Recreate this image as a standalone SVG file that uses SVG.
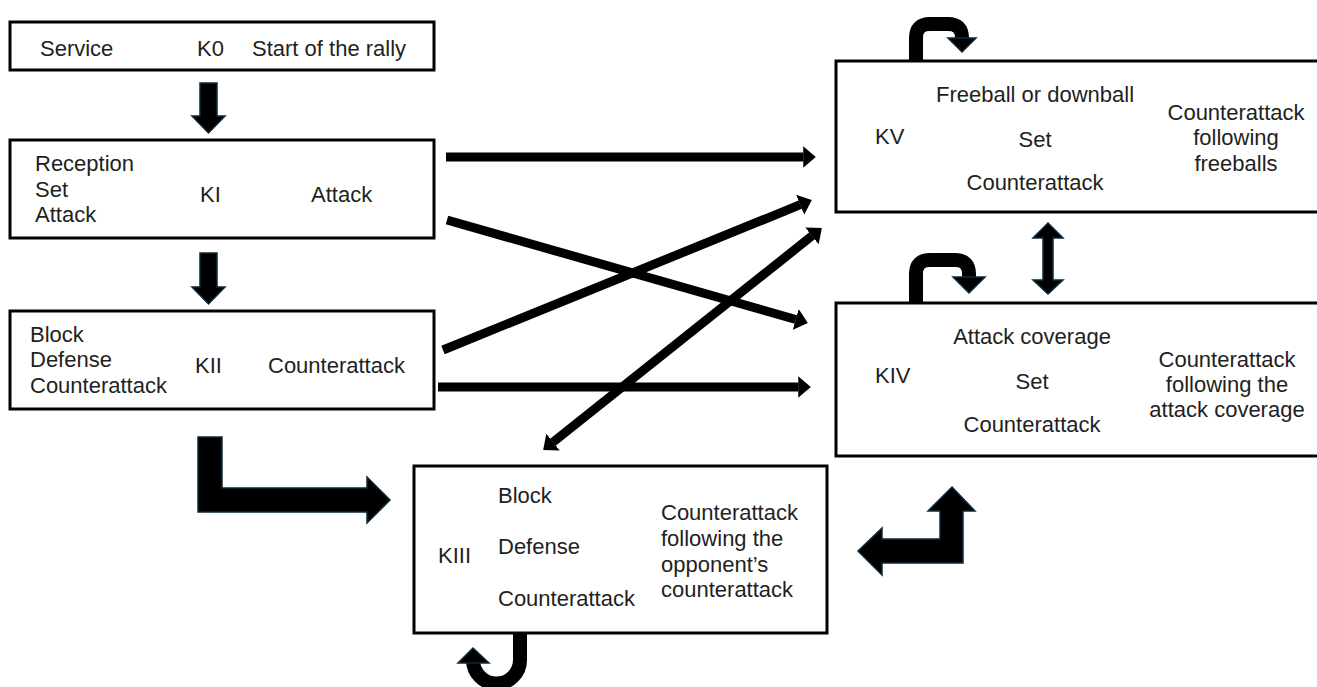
<svg xmlns="http://www.w3.org/2000/svg" width="1317" height="687" viewBox="0 0 1317 687">
<defs>
<style>
.box{fill:#fff;stroke:#000;stroke-width:3}
.t{font-family:"Liberation Sans",Arial,sans-serif;font-size:22px;fill:#231f20}
.m{text-anchor:middle}
.big{fill:#000;stroke:#0e2a3a;stroke-width:1.5;stroke-linejoin:miter}
.ln{stroke:#000;stroke-width:9;fill:none}
.loop{stroke:#000;stroke-width:14;fill:none}
</style>
<marker id="ah" viewBox="0 0 1.4 2.4" refX="0.02" refY="1.2" markerWidth="1.4" markerHeight="2.4" markerUnits="strokeWidth" orient="auto-start-reverse">
<path d="M0,0 L1.4,1.2 L0,2.4 Z" fill="#000"/>
</marker>
</defs>
<rect width="1317" height="687" fill="#fff"/>

<g id="connectors">
<path class="big" d="M200,83 H217 V116 H225 L208.5,133 L192,116 H200 Z"/>
<path class="big" d="M200,253 H217 V287 H225 L208.5,304 L192,287 H200 Z"/>
<path class="big" d="M198,437 H222 V488 H367 V477 L390,500 L367,523 V512 H198 Z"/>
<path class="big" d="M952,487 L975,511 H963 V563 H882 V575 L858,551 L882,528 V539 H940 V511 H928 Z"/>
<path class="big" d="M1048,223 L1063,238 H1053 V280 H1063 L1048,294 L1033,280 H1043 V238 H1033 Z"/>
<line class="ln" x1="446" y1="157" x2="803.4" y2="157" marker-end="url(#ah)"/>
<line class="ln" x1="447" y1="220" x2="795.9" y2="319.5" marker-end="url(#ah)"/>
<line class="ln" x1="443" y1="350" x2="800.3" y2="204.7" marker-end="url(#ah)"/>
<line class="ln" x1="438" y1="387" x2="798.4" y2="387" marker-end="url(#ah)"/>
<line class="ln" x1="552.9" y1="442.2" x2="812.1" y2="235.8" marker-start="url(#ah)" marker-end="url(#ah)"/>
<path class="loop" d="M916,60 V38 Q916,24 930,24 H948 Q962,24 962,38 V39"/>
<path class="big" d="M948,38 H976 L962,52 Z"/>
<path class="loop" d="M916,303 V274 Q916,260 930,260 H955 Q969,260 969,274 V278"/>
<path class="big" d="M953,277 H985 L969,293 Z"/>
<path class="loop" d="M520,634 V660 A23.5,23.5 0 0 1 473,660 V662"/>
<path class="big" d="M458,663 L473,648 L489,663 Z"/>
</g>

<g id="K0">
<rect class="box" x="10" y="22" width="424" height="48"/>
<text class="t" x="40" y="56">Service</text>
<text class="t" x="197" y="56">K0</text>
<text class="t" x="252" y="56">Start of the rally</text>
</g>

<g id="KI">
<rect class="box" x="10" y="140" width="424" height="98"/>
<text class="t" x="35" y="171">Reception</text>
<text class="t" x="35" y="197">Set</text>
<text class="t" x="35" y="222">Attack</text>
<text class="t" x="200" y="202">KI</text>
<text class="t" x="311" y="202">Attack</text>
</g>

<g id="KII">
<rect class="box" x="10" y="311" width="424" height="98"/>
<text class="t" x="30" y="342">Block</text>
<text class="t" x="30" y="367">Defense</text>
<text class="t" x="30" y="393">Counterattack</text>
<text class="t" x="195" y="373">KII</text>
<text class="t" x="268" y="373">Counterattack</text>
</g>

<g id="KIII">
<rect class="box" x="414" y="466" width="413" height="167"/>
<text class="t" x="438" y="563">KIII</text>
<text class="t" x="498" y="503">Block</text>
<text class="t" x="498" y="554">Defense</text>
<text class="t" x="498" y="606">Counterattack</text>
<text class="t" x="661" y="520">Counterattack</text>
<text class="t" x="661" y="546">following the</text>
<text class="t" x="661" y="572">opponent’s</text>
<text class="t" x="661" y="597">counterattack</text>
</g>

<g id="KV">
<rect class="box" x="836" y="61" width="500" height="151"/>
<text class="t" x="875" y="144">KV</text>
<text class="t m" x="1035" y="102">Freeball or downball</text>
<text class="t m" x="1035" y="147">Set</text>
<text class="t m" x="1035" y="190">Counterattack</text>
<text class="t m" x="1236" y="120">Counterattack</text>
<text class="t m" x="1236" y="145">following</text>
<text class="t m" x="1236" y="171">freeballs</text>
</g>

<g id="KIV">
<rect class="box" x="836" y="303" width="500" height="153"/>
<text class="t" x="875" y="383">KIV</text>
<text class="t m" x="1032" y="344">Attack coverage</text>
<text class="t m" x="1032" y="389">Set</text>
<text class="t m" x="1032" y="432">Counterattack</text>
<text class="t m" x="1227" y="367">Counterattack</text>
<text class="t m" x="1227" y="392">following the</text>
<text class="t m" x="1227" y="417">attack coverage</text>
</g>
</svg>
